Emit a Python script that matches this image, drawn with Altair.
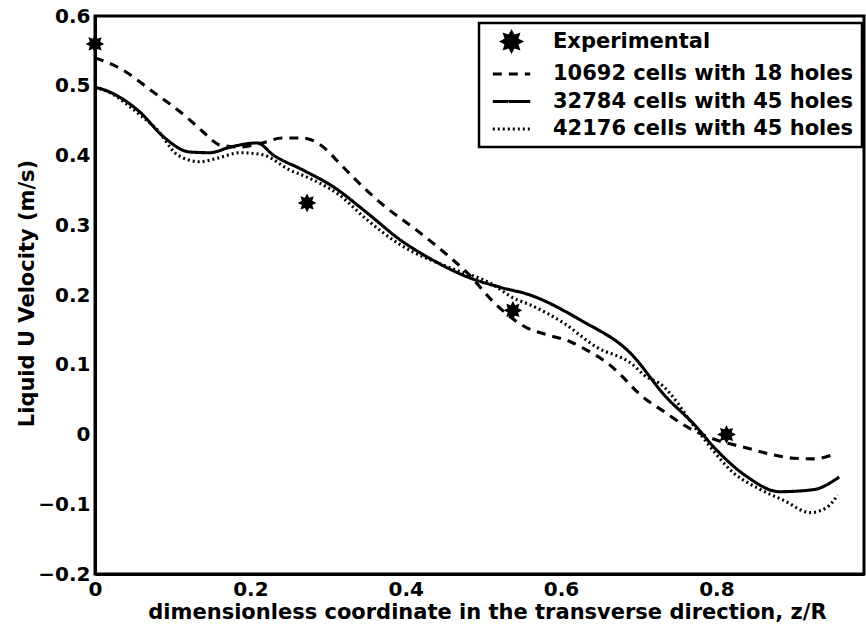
import altair as alt
import pandas as pd

series_names = [
    "Experimental",
    "10692 cells with 18 holes",
    "32784 cells with 45 holes",
    "42176 cells with 45 holes",
]

exp_x = [0.0, 0.273, 0.538, 0.813]
exp_y = [0.56, 0.332, 0.178, 0.0]

c10692_x = [0.0, 0.032, 0.075, 0.118, 0.139, 0.161, 0.187, 0.215, 0.241, 0.268, 0.294, 0.313,
            0.333, 0.371, 0.414, 0.457, 0.479, 0.513, 0.556, 0.582, 0.612, 0.633, 0.659, 0.680,
            0.698, 0.735, 0.765, 0.800, 0.838, 0.869, 0.899, 0.925, 0.950]
c10692_y = [0.540, 0.525, 0.491, 0.455, 0.434, 0.415, 0.412, 0.418, 0.425, 0.425, 0.412, 0.391,
            0.368, 0.329, 0.293, 0.254, 0.232, 0.190, 0.153, 0.143, 0.133, 0.121, 0.103, 0.082,
            0.061, 0.031, 0.009, -0.008, -0.019, -0.028, -0.034, -0.035, -0.029]

c32784_x = [0.0, 0.019, 0.058, 0.088, 0.122, 0.148, 0.174, 0.209, 0.229, 0.268, 0.307, 0.350,
            0.393, 0.435, 0.479, 0.522, 0.560, 0.625, 0.689, 0.735, 0.770, 0.800, 0.840, 0.881,
            0.925, 0.958]
c32784_y = [0.498, 0.491, 0.462, 0.427, 0.405, 0.404, 0.412, 0.418, 0.401, 0.379, 0.355, 0.318,
            0.279, 0.250, 0.226, 0.211, 0.200, 0.164, 0.117, 0.054, 0.016, -0.022, -0.061, -0.082,
            -0.079, -0.061]

c42176_x = [0.0, 0.019, 0.058, 0.080, 0.106, 0.135, 0.157, 0.187, 0.216, 0.251, 0.273, 0.315,
            0.350, 0.393, 0.457, 0.509, 0.540, 0.560, 0.603, 0.646, 0.689, 0.711, 0.726, 0.778,
            0.822, 0.855, 0.886, 0.921, 0.943, 0.956]
c42176_y = [0.498, 0.490, 0.458, 0.437, 0.401, 0.391, 0.396, 0.404, 0.401, 0.379, 0.369, 0.343,
            0.308, 0.272, 0.239, 0.217, 0.195, 0.186, 0.160, 0.125, 0.103, 0.082, 0.074, 0.002,
            -0.055, -0.078, -0.094, -0.112, -0.104, -0.087]

x_ticks = [0, 0.2, 0.4, 0.6, 0.8]
y_ticks = [-0.2, -0.1, 0, 0.1, 0.2, 0.3, 0.4, 0.5, 0.6]

x_title = "dimensionless coordinate in the transverse direction, z/R"
y_title = "Liquid U Velocity (m/s)"

rows = []
for name, xs, ys in [(series_names[1], c10692_x, c10692_y),
                     (series_names[2], c32784_x, c32784_y),
                     (series_names[3], c42176_x, c42176_y)]:
    for a, b in zip(xs, ys):
        rows.append({"x": a, "y": b, "series": name})
line_df = pd.DataFrame(rows)
exp_df = pd.DataFrame({"x": exp_x, "y": exp_y, "series": series_names[0]})

FONT = "DejaVu Sans"
STAR = ("M1.1,0L0.61,0.253L0.778,0.778L0.253,0.61L0,1.1L-0.253,0.61L-0.778,0.778"
        "L-0.61,0.253L-1.1,0L-0.61,-0.253L-0.778,-0.778L-0.253,-0.61L0,-1.1"
        "L0.253,-0.61L0.778,-0.778L0.61,-0.253Z")
LINE_SYM = "M-2.2,0L2.2,0"

shape_scale = alt.Scale(domain=series_names, range=[STAR, LINE_SYM, LINE_SYM, LINE_SYM])
dash_scale = alt.Scale(domain=series_names, range=[[1, 0], [9, 7], [1, 0], [2, 3]])
color_scale = alt.Scale(domain=series_names, range=["black", "black", "black", "black"])

def make_legend():
    return alt.Legend(
        title=None, orient="none", legendX=384, legendY=7, padding=8, rowPadding=5.5,
        labelFont=FONT, labelFontSize=21, labelFontWeight="bold", labelColor="black",
        labelOffset=31, labelLimit=500, symbolSize=289, symbolStrokeWidth=3,
        symbolOffset=14, symbolStrokeColor="black", symbolFillColor="black",
        strokeColor="black", fillColor="white", cornerRadius=0,
    )

xenc = alt.X("x:Q", scale=alt.Scale(domain=[0, 0.99], nice=False, zero=False),
             axis=alt.Axis(values=x_ticks, title=x_title,
                           labelExpr="datum.value == 0 ? '0' : format(datum.value, '.1f')",
                           labelPadding=5, labelFlush=False,
                           titleBaseline="alphabetic", titleY=44, titleX=392))
yenc = alt.Y("y:Q", scale=alt.Scale(domain=[-0.2, 0.6], nice=False, zero=False),
             axis=alt.Axis(values=y_ticks, title=y_title,
                           labelExpr="datum.value == 0 ? '0' : format(datum.value, '.1f')",
                           labelPadding=5, titleBaseline="alphabetic", titleX=-62, titleY=277))

lines = alt.Chart(line_df).mark_line(strokeWidth=3.1, interpolate="monotone").encode(
    x=xenc, y=yenc,
    color=alt.Color("series:N", scale=color_scale, legend=make_legend()),
    strokeDash=alt.StrokeDash("series:N", scale=dash_scale, legend=make_legend()),
)
points = alt.Chart(exp_df).mark_point(filled=True, opacity=1, size=289).encode(
    x=xenc, y=yenc,
    color=alt.Color("series:N", scale=color_scale, legend=make_legend()),
    shape=alt.Shape("series:N", scale=shape_scale, legend=make_legend()),
)

chart = (
    alt.layer(lines, points)
    .properties(width=769, height=558, autosize=alt.AutoSizeParams(type="none"),
                padding={"left": 95, "top": 16, "right": 2, "bottom": 58},
                background="white")
    .configure_view(stroke="black", strokeWidth=3)
    .configure_axis(domainColor="black", domainWidth=3, grid=False, ticks=False,
                    labelFont=FONT, labelFontSize=20, labelFontWeight="bold", labelColor="black",
                    titleFont=FONT, titleFontSize=21, titleFontWeight="bold", titleColor="black")
    .configure_legend(strokeWidth=2.5)
)

chart.save("out.html", embed_options={"renderer": "svg", "actions": False})
